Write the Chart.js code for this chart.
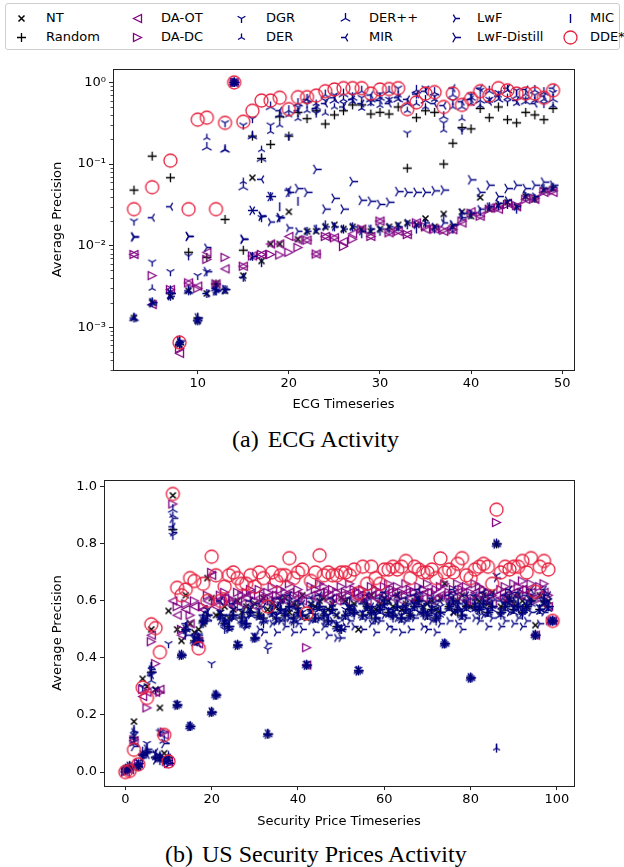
<!DOCTYPE html>
<html>
<head>
<meta charset="utf-8">
<script src="https://cdn.jsdelivr.net/npm/chart.js@4.4.1/dist/chart.umd.min.js"></script>
<style>
  body { margin: 0; width: 624px; height: 867px; background: #fff; position: relative; overflow: hidden; font-family: "DejaVu Sans", sans-serif; }
  #legend { position: absolute; left: 5px; top: 3px; width: 615px; height: 47px; border: 1px solid #cfcfcf; border-radius: 3px; box-sizing: border-box; }
  #legend canvas { position: absolute; }
  .lbl { position: absolute; font-size: 13px; line-height: 16px; color: #000; white-space: nowrap; }
  .wrap { position: absolute; left: 0; width: 624px; }
  .cap { position: absolute; font-family: "Liberation Serif", "Times New Roman", serif; font-size: 24px; line-height: 28px; white-space: nowrap; color: #000; }
  .cap span { margin-right: 9px; }
</style>
</head>
<body>
<div id="legend"></div>
<div class="wrap" style="top:55px;height:365px"><canvas id="ecgChart" width="624" height="365"></canvas></div>
<div class="cap" style="left:232px;top:425px"><span>(a)</span>ECG Activity</div>
<div class="wrap" style="top:465px;height:372px"><canvas id="secChart" width="624" height="372"></canvas></div>
<div class="cap" style="left:165px;top:840px"><span>(b)</span>US Security Prices Activity</div>
<script>
// ---------- (a) ECG Activity : x positions and values per method ----------
const xEcg = [3, 5, 7, 8, 9,
  10, 11, 12, 13, 14, 15, 16, 17, 18, 19,
  20, 21, 22, 23, 24, 25, 26, 27, 28, 29,
  30, 31, 32, 33, 34, 35, 36, 37, 38, 39,
  40, 41, 42, 43, 44, 45, 46, 47, 48, 49];

const ntEcg = [0.0013, 0.0020, 0.0024, 0.00062, 0.0028,
  0.0012, 0.0026, 0.0034, 0.0028, 1.0, 0.0043, 0.068, 0.0065, 0.0105, 0.0105,
  0.026, 0.012, 0.015, 0.015, 0.017, 0.018, 0.016, 0.017, 0.016, 0.015,
  0.016, 0.017, 0.018, 0.019, 0.018, 0.0215, 0.017, 0.0245, 0.017, 0.026,
  0.023, 0.039, 0.028, 0.031, 0.034, 0.030, 0.040, 0.037, 0.048, 0.050];
const randomEcg = [0.048, 0.125, 0.068, 0.00062, 0.0083,
  0.0013, 0.0072, 0.0034, 0.021, 1.0, 0.0088, 0.22, 0.117, 0.174, 0.38,
  0.22, 0.43, 0.36, 0.45, 0.31, 0.40, 0.45, 0.53, 0.53, 0.41,
  0.43, 0.41, 0.50, 0.089, 0.37, 0.45, 0.43, 0.10, 0.18, 0.28,
  0.27, 0.48, 0.37, 0.50, 0.35, 0.32, 0.43, 0.40, 0.35, 0.48];
const daOtEcg = [0.0078, 0.0019, 0.0029, 0.00048, 0.0035,
  0.0032, 0.0083, 0.0034, 0.0052, 1.0, 0.0056, 0.0075, 0.0078, 0.0105, 0.0105,
  0.013, 0.0118, 0.0117, 0.0079, 0.013, 0.0125, 0.0112, 0.014, 0.016, 0.013,
  0.020, 0.0144, 0.015, 0.0137, 0.019, 0.016, 0.016, 0.015, 0.0157, 0.019,
  0.026, 0.023, 0.029, 0.028, 0.033, 0.030, 0.037, 0.037, 0.045, 0.045];
const daDcEcg = [0.0078, 0.0043, 0.0029, 0.00055, 0.0035,
  0.0030, 0.0068, 0.0034, 0.0072, 1.0, 0.0056, 0.0075, 0.0078, 0.0078, 0.0077,
  0.0083, 0.0095, 0.0117, 0.0079, 0.013, 0.0125, 0.0098, 0.012, 0.016, 0.013,
  0.020, 0.0144, 0.015, 0.0137, 0.019, 0.017, 0.016, 0.0155, 0.0157, 0.020,
  0.025, 0.023, 0.028, 0.029, 0.032, 0.031, 0.037, 0.038, 0.046, 0.047];
const dgrEcg = [0.020, 0.0063, 0.0048, 0.00062, 0.0075,
  0.0043, 0.0048, 0.0028, 0.32, 1.0, 0.30, 0.36, 0.022, 0.30, 0.022,
  0.22, 0.50, 0.55, 0.42, 0.60, 0.70, 0.55, 0.70, 0.65, 0.58,
  0.72, 0.62, 0.85, 0.24, 0.72, 0.85, 0.68, 0.32, 0.60, 0.26,
  0.70, 0.80, 0.62, 0.75, 0.58, 0.80, 0.62, 0.70, 0.55, 0.75];
const derEcg = [0.0013, 0.0030, 0.0024, 0.00070, 0.0028,
  0.0012, 0.21, 0.0028, 0.15, 1.0, 0.061, 0.22, 0.15, 0.25, 0.30,
  0.40, 0.36, 0.45, 0.55, 0.42, 0.50, 0.62, 0.58, 0.48, 0.55,
  0.52, 0.60, 0.70, 0.45, 0.55, 0.50, 0.62, 0.26, 0.50, 0.36,
  0.55, 0.52, 0.60, 0.70, 0.65, 0.55, 0.72, 0.60, 0.62, 0.52];
const derPlusEcg = [0.0013, 0.0020, 0.0028, 0.00065, 0.0028,
  0.0013, 0.16, 0.0030, 0.15, 1.0, 0.052, 0.22, 0.116, 0.50, 0.40,
  0.45, 0.55, 0.62, 0.50, 0.70, 0.60, 0.72, 0.65, 0.78, 0.62,
  0.65, 0.78, 0.62, 0.55, 0.80, 0.60, 0.75, 0.38, 0.70, 0.50,
  0.65, 0.60, 0.78, 0.62, 0.80, 0.68, 0.58, 0.80, 0.75, 0.62];
const mirEcg = [0.0013, 0.022, 0.030, 0.00062, 0.0028,
  0.0012, 0.0026, 0.0030, 0.0029, 1.0, 0.0041, 0.027, 0.065, 0.040, 0.45,
  0.048, 0.45, 0.62, 0.48, 0.55, 0.65, 0.50, 0.62, 0.55, 0.70,
  0.60, 0.55, 0.65, 0.62, 0.72, 0.78, 0.55, 0.52, 0.85, 0.58,
  0.62, 0.85, 0.58, 0.68, 0.85, 0.60, 0.82, 0.55, 0.68, 0.85];
const lwfEcg = [0.0128, 0.0020, 0.0024, 0.00065, 0.013,
  0.0012, 0.0095, 0.0028, 0.0029, 1.0, 0.012, 0.0074, 0.023, 0.0195, 0.022,
  0.0165, 0.015, 0.015, 0.016, 0.017, 0.017, 0.016, 0.017, 0.015, 0.016,
  0.016, 0.017, 0.017, 0.019, 0.018, 0.019, 0.017, 0.019, 0.018, 0.022,
  0.025, 0.028, 0.030, 0.033, 0.036, 0.030, 0.042, 0.040, 0.050, 0.052];
const lwfDistillEcg = [0.0128, 0.0020, 0.0026, 0.00068, 0.013,
  0.0013, 0.0048, 0.0028, 0.0029, 1.0, 0.012, 0.027, 0.023, 0.040, 0.022,
  0.045, 0.050, 0.045, 0.086, 0.028, 0.038, 0.028, 0.061, 0.036, 0.035,
  0.032, 0.034, 0.046, 0.045, 0.045, 0.045, 0.047, 0.048, 0.018, 0.025,
  0.064, 0.045, 0.055, 0.040, 0.050, 0.055, 0.050, 0.055, 0.060, 0.055];
const micEcg = [0.0013, 0.0020, 0.0024, 0.00070, 0.0028,
  0.0012, 0.0026, 0.0028, 0.0029, 1.0, 0.0041, 0.0074, 0.0062, 0.040, 0.030,
  0.045, 0.035, 0.015, 0.016, 0.018, 0.017, 0.016, 0.017, 0.014, 0.016,
  0.015, 0.016, 0.017, 0.018, 0.016, 0.019, 0.016, 0.022, 0.016, 0.024,
  0.024, 0.026, 0.030, 0.031, 0.032, 0.028, 0.040, 0.038, 0.050, 0.052];
const ddeEcg = [0.028, 0.052, 0.11, 0.00065, 0.028,
  0.35, 0.37, 0.028, 0.32, 1.0, 0.33, 0.45, 0.60, 0.60, 0.65,
  0.47, 0.66, 0.66, 0.69, 0.78, 0.82, 0.85, 0.85, 0.85, 0.73,
  0.82, 0.83, 0.85, 0.47, 0.57, 0.73, 0.76, 0.50, 0.73, 0.53,
  0.63, 0.78, 0.69, 0.85, 0.80, 0.73, 0.73, 0.73, 0.65, 0.80];

const ecgTicksX = [10, 20, 30, 40, 50];
const ecgTicksY = [0.001, 0.01, 0.1, 1];
const ecgTickLabelsY = ['10\u207B\u00B3', '10\u207B\u00B2', '10\u207B\u00B9', '10\u2070'];

// ---------- (b) US Security Prices : series index 0..99 ----------
const xSec = Array.from({ length: 100 }, (_, i) => i);

const ntSec = [0.003, 0.01, 0.177, 0.02, 0.327, 0.30, 0.50, 0.29, 0.225, 0.066,
  0.565, 0.97, 0.50, 0.46, 0.62, 0.52, 0.49, 0.50, 0.52, 0.68,
  0.61, 0.55, 0.56, 0.58, 0.54, 0.57, 0.60, 0.56, 0.58, 0.57,
  0.59, 0.55, 0.61, 0.57, 0.59, 0.58, 0.60, 0.61, 0.56, 0.59,
  0.58, 0.62, 0.54, 0.59, 0.58, 0.60, 0.61, 0.57, 0.59, 0.55,
  0.61, 0.60, 0.58, 0.59, 0.50, 0.60, 0.58, 0.62, 0.57, 0.59,
  0.61, 0.60, 0.58, 0.62, 0.57, 0.59, 0.55, 0.60, 0.61, 0.58,
  0.59, 0.60, 0.57, 0.61, 0.66, 0.58, 0.56, 0.60, 0.62, 0.59,
  0.58, 0.61, 0.60, 0.62, 0.59, 0.63, 0.80, 0.58, 0.60, 0.61,
  0.59, 0.62, 0.60, 0.58, 0.61, 0.515, 0.62, 0.59, 0.60, 0.53];
const randomSec = [0.01, 0.02, 0.12, 0.02, 0.06, 0.07, 0.35, 0.05, 0.05, 0.04,
  0.05, 0.85, 0.235, 0.41, 0.50, 0.16, 0.46, 0.47, 0.53, 0.55,
  0.21, 0.27, 0.55, 0.52, 0.51, 0.55, 0.445, 0.54, 0.52, 0.56,
  0.47, 0.55, 0.54, 0.133, 0.56, 0.54, 0.57, 0.55, 0.58, 0.54,
  0.56, 0.55, 0.375, 0.57, 0.54, 0.58, 0.55, 0.53, 0.57, 0.51,
  0.50, 0.55, 0.57, 0.56, 0.355, 0.55, 0.58, 0.56, 0.54, 0.57,
  0.59, 0.56, 0.55, 0.58, 0.54, 0.57, 0.55, 0.58, 0.60, 0.56,
  0.55, 0.57, 0.54, 0.56, 0.45, 0.58, 0.60, 0.57, 0.55, 0.58,
  0.33, 0.58, 0.57, 0.59, 0.56, 0.58, 0.80, 0.56, 0.58, 0.60,
  0.57, 0.58, 0.56, 0.58, 0.60, 0.48, 0.57, 0.60, 0.58, 0.53];
const daOtSec = [0.0, 0.008, 0.11, 0.03, 0.265, 0.28, 0.48, 0.28, 0.29, 0.13,
  0.035, 0.60, 0.55, 0.48, 0.57, 0.52, 0.58, 0.45, 0.57, 0.60,
  0.69, 0.58, 0.60, 0.61, 0.59, 0.58, 0.60, 0.59, 0.61, 0.62,
  0.58, 0.61, 0.60, 0.60, 0.62, 0.60, 0.61, 0.60, 0.63, 0.59,
  0.61, 0.60, 0.375, 0.62, 0.61, 0.63, 0.62, 0.60, 0.61, 0.60,
  0.62, 0.60, 0.63, 0.61, 0.61, 0.61, 0.60, 0.62, 0.61, 0.60,
  0.62, 0.63, 0.61, 0.62, 0.60, 0.63, 0.61, 0.60, 0.62, 0.61,
  0.63, 0.60, 0.61, 0.62, 0.62, 0.60, 0.61, 0.63, 0.61, 0.60,
  0.60, 0.63, 0.62, 0.61, 0.60, 0.59, 0.62, 0.61, 0.62, 0.60,
  0.63, 0.62, 0.64, 0.61, 0.63, 0.48, 0.62, 0.63, 0.58, 0.53];
const daDcSec = [0.0, 0.008, 0.113, 0.03, 0.29, 0.225, 0.457, 0.38, 0.28, 0.14,
  0.03, 0.94, 0.58, 0.50, 0.59, 0.55, 0.60, 0.47, 0.58, 0.62,
  0.70, 0.60, 0.62, 0.63, 0.61, 0.60, 0.63, 0.62, 0.63, 0.64,
  0.60, 0.64, 0.62, 0.63, 0.65, 0.62, 0.64, 0.63, 0.66, 0.62,
  0.64, 0.62, 0.436, 0.65, 0.64, 0.66, 0.65, 0.63, 0.64, 0.63,
  0.65, 0.63, 0.66, 0.64, 0.63, 0.64, 0.62, 0.65, 0.64, 0.63,
  0.65, 0.66, 0.64, 0.65, 0.63, 0.66, 0.64, 0.63, 0.65, 0.64,
  0.66, 0.63, 0.64, 0.65, 0.66, 0.63, 0.64, 0.66, 0.64, 0.65,
  0.63, 0.66, 0.65, 0.64, 0.63, 0.62, 0.875, 0.64, 0.65, 0.63,
  0.66, 0.65, 0.67, 0.64, 0.66, 0.60, 0.65, 0.66, 0.62, 0.53];
const dgrSec = [0.01, 0.02, 0.13, 0.02, 0.30, 0.10, 0.34, 0.29, 0.14, 0.05,
  0.45, 0.83, 0.24, 0.41, 0.49, 0.16, 0.47, 0.48, 0.52, 0.57,
  0.38, 0.27, 0.56, 0.50, 0.53, 0.57, 0.45, 0.52, 0.54, 0.58,
  0.48, 0.57, 0.52, 0.43, 0.58, 0.55, 0.59, 0.53, 0.60, 0.52,
  0.57, 0.56, 0.38, 0.59, 0.55, 0.60, 0.53, 0.55, 0.58, 0.52,
  0.51, 0.57, 0.58, 0.55, 0.36, 0.56, 0.60, 0.55, 0.56, 0.58,
  0.61, 0.57, 0.54, 0.60, 0.55, 0.58, 0.57, 0.59, 0.62, 0.55,
  0.56, 0.59, 0.53, 0.58, 0.45, 0.60, 0.62, 0.56, 0.57, 0.60,
  0.33, 0.60, 0.55, 0.61, 0.57, 0.60, 0.69, 0.55, 0.59, 0.62,
  0.58, 0.61, 0.55, 0.60, 0.62, 0.48, 0.58, 0.62, 0.60, 0.53];
const derSec = [0.005, 0.015, 0.145, 0.03, 0.06, 0.07, 0.37, 0.05, 0.06, 0.04,
  0.06, 0.90, 0.235, 0.41, 0.51, 0.16, 0.45, 0.46, 0.54, 0.55,
  0.21, 0.27, 0.54, 0.53, 0.50, 0.55, 0.445, 0.55, 0.51, 0.56,
  0.47, 0.54, 0.54, 0.133, 0.55, 0.53, 0.57, 0.56, 0.57, 0.54,
  0.55, 0.54, 0.375, 0.57, 0.53, 0.58, 0.56, 0.52, 0.57, 0.50,
  0.50, 0.55, 0.56, 0.57, 0.355, 0.54, 0.58, 0.57, 0.53, 0.57,
  0.59, 0.55, 0.56, 0.58, 0.53, 0.57, 0.54, 0.58, 0.60, 0.57,
  0.54, 0.57, 0.55, 0.55, 0.45, 0.57, 0.60, 0.58, 0.54, 0.58,
  0.33, 0.57, 0.58, 0.59, 0.55, 0.58, 0.084, 0.56, 0.57, 0.60,
  0.57, 0.58, 0.56, 0.57, 0.60, 0.48, 0.56, 0.60, 0.57, 0.53];
const derPlusSec = [0.01, 0.02, 0.10, 0.025, 0.07, 0.08, 0.32, 0.06, 0.05, 0.11,
  0.04, 0.92, 0.235, 0.41, 0.50, 0.16, 0.46, 0.47, 0.53, 0.54,
  0.21, 0.27, 0.55, 0.52, 0.51, 0.54, 0.445, 0.53, 0.52, 0.55,
  0.47, 0.55, 0.53, 0.133, 0.56, 0.54, 0.56, 0.55, 0.58, 0.53,
  0.56, 0.55, 0.375, 0.56, 0.54, 0.57, 0.55, 0.53, 0.56, 0.51,
  0.50, 0.54, 0.57, 0.56, 0.355, 0.55, 0.57, 0.56, 0.54, 0.56,
  0.58, 0.56, 0.55, 0.57, 0.54, 0.56, 0.55, 0.57, 0.59, 0.56,
  0.55, 0.56, 0.54, 0.56, 0.45, 0.58, 0.59, 0.57, 0.55, 0.57,
  0.33, 0.58, 0.57, 0.58, 0.56, 0.57, 0.80, 0.55, 0.58, 0.59,
  0.56, 0.59, 0.57, 0.58, 0.59, 0.48, 0.57, 0.59, 0.58, 0.53];
const mirSec = [0.01, 0.02, 0.12, 0.02, 0.06, 0.06, 0.34, 0.07, 0.05, 0.04,
  0.05, 0.86, 0.235, 0.41, 0.52, 0.16, 0.48, 0.45, 0.55, 0.56,
  0.21, 0.27, 0.60, 0.54, 0.55, 0.59, 0.445, 0.57, 0.56, 0.60,
  0.47, 0.59, 0.58, 0.133, 0.60, 0.58, 0.61, 0.57, 0.62, 0.58,
  0.60, 0.59, 0.375, 0.61, 0.58, 0.62, 0.57, 0.57, 0.61, 0.55,
  0.54, 0.59, 0.61, 0.58, 0.355, 0.59, 0.62, 0.58, 0.58, 0.61,
  0.63, 0.60, 0.57, 0.62, 0.58, 0.61, 0.59, 0.62, 0.64, 0.58,
  0.59, 0.61, 0.58, 0.60, 0.45, 0.62, 0.64, 0.59, 0.59, 0.62,
  0.33, 0.62, 0.59, 0.63, 0.60, 0.62, 0.80, 0.60, 0.62, 0.64,
  0.61, 0.63, 0.58, 0.62, 0.64, 0.48, 0.61, 0.64, 0.62, 0.53];
const lwfSec = [0.01, 0.015, 0.14, 0.02, 0.05, 0.07, 0.36, 0.04, 0.14, 0.035,
  0.04, 0.84, 0.235, 0.41, 0.48, 0.16, 0.46, 0.48, 0.52, 0.53,
  0.21, 0.27, 0.53, 0.52, 0.50, 0.54, 0.445, 0.52, 0.51, 0.55,
  0.47, 0.50, 0.49, 0.45, 0.52, 0.49, 0.53, 0.51, 0.54, 0.49,
  0.52, 0.50, 0.375, 0.53, 0.49, 0.54, 0.51, 0.48, 0.53, 0.47,
  0.47, 0.51, 0.53, 0.51, 0.355, 0.50, 0.54, 0.52, 0.49, 0.53,
  0.55, 0.51, 0.50, 0.54, 0.49, 0.53, 0.50, 0.54, 0.56, 0.51,
  0.50, 0.53, 0.49, 0.52, 0.45, 0.53, 0.56, 0.52, 0.50, 0.54,
  0.33, 0.54, 0.53, 0.55, 0.51, 0.54, 0.68, 0.51, 0.53, 0.56,
  0.52, 0.54, 0.51, 0.53, 0.56, 0.48, 0.52, 0.56, 0.53, 0.53];
const lwfDistillSec = [0.005, 0.02, 0.09, 0.03, 0.06, 0.08, 0.35, 0.06, 0.05, 0.10,
  0.03, 0.89, 0.235, 0.41, 0.50, 0.16, 0.47, 0.46, 0.53, 0.55,
  0.21, 0.27, 0.55, 0.53, 0.51, 0.55, 0.445, 0.53, 0.52, 0.56,
  0.47, 0.55, 0.53, 0.133, 0.56, 0.53, 0.57, 0.55, 0.58, 0.53,
  0.56, 0.55, 0.375, 0.57, 0.54, 0.58, 0.55, 0.53, 0.57, 0.51,
  0.50, 0.55, 0.57, 0.56, 0.355, 0.55, 0.58, 0.56, 0.54, 0.57,
  0.59, 0.56, 0.55, 0.58, 0.54, 0.57, 0.55, 0.58, 0.60, 0.56,
  0.55, 0.57, 0.54, 0.56, 0.45, 0.58, 0.60, 0.57, 0.55, 0.58,
  0.33, 0.58, 0.57, 0.59, 0.56, 0.58, 0.80, 0.56, 0.58, 0.60,
  0.57, 0.58, 0.56, 0.58, 0.60, 0.48, 0.57, 0.60, 0.58, 0.53];
const micSec = [0.01, 0.02, 0.15, 0.02, 0.05, 0.07, 0.37, 0.05, 0.04, 0.04,
  0.05, 0.87, 0.235, 0.41, 0.51, 0.16, 0.46, 0.47, 0.54, 0.55,
  0.21, 0.27, 0.55, 0.52, 0.51, 0.55, 0.445, 0.54, 0.52, 0.56,
  0.47, 0.55, 0.54, 0.133, 0.56, 0.54, 0.57, 0.55, 0.58, 0.54,
  0.56, 0.55, 0.375, 0.57, 0.54, 0.58, 0.55, 0.53, 0.57, 0.51,
  0.50, 0.55, 0.57, 0.56, 0.355, 0.55, 0.58, 0.56, 0.54, 0.57,
  0.59, 0.56, 0.55, 0.58, 0.54, 0.57, 0.55, 0.58, 0.60, 0.56,
  0.55, 0.57, 0.54, 0.56, 0.45, 0.58, 0.60, 0.57, 0.55, 0.58,
  0.33, 0.58, 0.57, 0.59, 0.56, 0.58, 0.084, 0.56, 0.58, 0.60,
  0.57, 0.58, 0.56, 0.58, 0.60, 0.48, 0.57, 0.60, 0.58, 0.53];
const ddeSec = [0.0, 0.004, 0.078, 0.027, 0.296, 0.26, 0.518, 0.505, 0.42, 0.13,
  0.037, 0.975, 0.646, 0.62, 0.64, 0.68, 0.67, 0.434, 0.66, 0.60,
  0.755, 0.69, 0.60, 0.65, 0.69, 0.70, 0.68, 0.66, 0.66, 0.69,
  0.65, 0.70, 0.68, 0.58, 0.70, 0.67, 0.69, 0.69, 0.75, 0.68,
  0.70, 0.71, 0.556, 0.67, 0.70, 0.76, 0.69, 0.70, 0.69, 0.69,
  0.70, 0.70, 0.69, 0.71, 0.627, 0.72, 0.66, 0.72, 0.68, 0.66,
  0.71, 0.71, 0.72, 0.71, 0.72, 0.74, 0.68, 0.72, 0.71, 0.70,
  0.70, 0.71, 0.68, 0.749, 0.70, 0.71, 0.70, 0.73, 0.75, 0.69,
  0.68, 0.71, 0.72, 0.73, 0.72, 0.66, 0.92, 0.70, 0.72, 0.71,
  0.72, 0.72, 0.74, 0.70, 0.75, 0.632, 0.72, 0.74, 0.71, 0.53];

const secTicksX = [0, 20, 40, 60, 80, 100];
const secTicksY = [0, 0.2, 0.4, 0.6, 0.8, 1.0];

const methods = ['NT', 'Random', 'DA-OT', 'DA-DC', 'DGR', 'DER', 'DER++', 'MIR', 'LwF', 'LwF-Distill', 'MIC', 'DDE*'];
const ecgSeries = [ntEcg, randomEcg, daOtEcg, daDcEcg, dgrEcg, derEcg, derPlusEcg, mirEcg, lwfEcg, lwfDistillEcg, micEcg, ddeEcg];
const secSeries = [ntSec, randomSec, daOtSec, daDcSec, dgrSec, derSec, derPlusSec, mirSec, lwfSec, lwfDistillSec, micSec, ddeSec];

// matplotlib-like marker glyphs
const NAVY = '#000080', PURPLE = '#800080', RED = '#e8213f';
const markerDefs = {
  'NT': { kind: 'x', r: 3, color: '#000', lw: 1.5 },
  'Random': { kind: '+', r: 4.5, color: '#000', lw: 1.3 },
  'DA-OT': { kind: '<', r: 4, color: PURPLE, lw: 1.3 },
  'DA-DC': { kind: '>', r: 4, color: PURPLE, lw: 1.3 },
  'DGR': { kind: '1', r: 4.5, color: NAVY, lw: 1.3 },
  'DER': { kind: '2', r: 4, color: NAVY, lw: 1.3 },
  'DER++': { kind: '2', r: 5.5, color: NAVY, lw: 1.3 },
  'MIR': { kind: '3', r: 4.5, color: NAVY, lw: 1.3 },
  'LwF': { kind: '4', r: 4.5, color: NAVY, lw: 1.3 },
  'LwF-Distill': { kind: '4', r: 5.5, color: NAVY, lw: 1.3 },
  'MIC': { kind: '|', r: 4.5, color: NAVY, lw: 1.4 },
  'DDE*': { kind: 'o', r: 6.5, color: RED, lw: 1.3 }
};

function makeGlyph(def) {
  const { kind, r, color, lw } = def;
  const size = 2 * Math.ceil(r + lw) + 1;
  const c = document.createElement('canvas');
  c.width = size; c.height = size;
  const g = c.getContext('2d');
  g.translate(size / 2, size / 2);
  g.strokeStyle = color;
  g.lineWidth = lw;
  g.beginPath();
  const rays = {
    '1': [[0, 1], [-0.866, -0.5], [0.866, -0.5]],
    '2': [[0, -1], [-0.866, 0.5], [0.866, 0.5]],
    '3': [[-1, 0], [0.5, -0.866], [0.5, 0.866]],
    '4': [[1, 0], [-0.5, -0.866], [-0.5, 0.866]]
  };
  if (rays[kind]) {
    rays[kind].forEach(([dx, dy]) => { g.moveTo(0, 0); g.lineTo(dx * r, dy * r); });
  } else if (kind === 'x') {
    g.moveTo(-r, -r); g.lineTo(r, r); g.moveTo(-r, r); g.lineTo(r, -r);
  } else if (kind === '+') {
    g.moveTo(-r, 0); g.lineTo(r, 0); g.moveTo(0, -r); g.lineTo(0, r);
  } else if (kind === '|') {
    g.moveTo(0, -r); g.lineTo(0, r);
  } else if (kind === '<') {
    g.moveTo(-r, 0); g.lineTo(r, -r); g.lineTo(r, r); g.closePath();
  } else if (kind === '>') {
    g.moveTo(r, 0); g.lineTo(-r, -r); g.lineTo(-r, r); g.closePath();
  } else if (kind === 'o') {
    g.arc(0, 0, r, 0, Math.PI * 2);
  }
  g.stroke();
  return c;
}

const glyphs = {};
methods.forEach(m => { glyphs[m] = makeGlyph(markerDefs[m]); });

// HTML legend, 6 columns x 2 rows
const legendCols = [21, 137, 241, 345, 455, 570];
const legendTextX = [46, 161, 266, 369, 477, 590];
const legendRows = [18, 37];
const legendEl = document.getElementById('legend');
methods.forEach((m, i) => {
  const col = Math.floor(i / 2), row = i % 2;
  const glyph = makeGlyph(markerDefs[m]);
  glyph.style.left = (legendCols[col] - 6 - glyph.width / 2) + 'px';
  glyph.style.top = (legendRows[row] - 4 - glyph.height / 2) + 'px';
  legendEl.appendChild(glyph);
  const lbl = document.createElement('div');
  lbl.className = 'lbl';
  lbl.textContent = m;
  lbl.style.left = (legendTextX[col] - 6) + 'px';
  lbl.style.top = (legendRows[row] - 4 - 8) + 'px';
  legendEl.appendChild(lbl);
});

// box around the axes (all four spines)
const framePlugin = {
  id: 'frame',
  afterDatasetsDraw(chart) {
    const { ctx, chartArea: a } = chart;
    ctx.save();
    ctx.strokeStyle = '#222';
    ctx.lineWidth = 1;
    ctx.strokeRect(Math.round(a.left) + 0.5, Math.round(a.top) + 0.5, Math.round(a.right - a.left), Math.round(a.bottom - a.top));
    ctx.restore();
  }
};

// minor ticks on the log axis
const minorTicksPlugin = {
  id: 'minorTicks',
  afterDraw(chart) {
    const y = chart.scales.y;
    if (y.type !== 'logarithmic') return;
    const { ctx, chartArea: a } = chart;
    ctx.save();
    ctx.strokeStyle = '#222';
    ctx.lineWidth = 0.8;
    ctx.beginPath();
    for (let k = -4; k <= 0; k++) {
      for (let m = 2; m <= 9; m++) {
        const v = m * Math.pow(10, k);
        if (v < y.min || v > y.max) continue;
        const py = Math.round(y.getPixelForValue(v)) + 0.5;
        ctx.moveTo(a.left, py);
        ctx.lineTo(a.left - 2.5, py);
      }
    }
    ctx.stroke();
    ctx.restore();
  }
};

const tickFont = { family: '"DejaVu Sans", sans-serif', size: 13 };

function buildChart(canvasId, xs, seriesList, cfg) {
  const datasets = methods.map((m, i) => ({
    label: m,
    data: xs.map((x, j) => ({ x: x, y: seriesList[i][j] })),
    pointStyle: glyphs[m],
    pointRadius: 3,
    pointHoverRadius: 3,
    showLine: false,
    order: methods.length - i
  }));
  return new Chart(document.getElementById(canvasId), {
    type: 'scatter',
    data: { datasets },
    options: {
      responsive: false,
      animation: false,
      events: [],
      layout: { padding: cfg.padding },
      plugins: { legend: { display: false }, tooltip: { enabled: false } },
      scales: {
        x: {
          type: 'linear',
          min: cfg.xMin, max: cfg.xMax,
          afterBuildTicks: s => { s.ticks = cfg.xTicks.map(v => ({ value: v })); },
          afterFit: s => { s.height = cfg.xAxisHeight; },
          ticks: { font: tickFont, color: '#000', padding: 2, autoSkip: false, maxRotation: 0, callback: v => String(v) },
          grid: { display: true, drawOnChartArea: false, drawTicks: true, tickLength: 4, tickColor: '#222' },
          border: { display: true, color: '#222' },
          title: { display: true, text: cfg.xTitle, font: tickFont, color: '#000' }
        },
        y: {
          type: cfg.yType,
          min: cfg.yMin, max: cfg.yMax,
          afterBuildTicks: s => { s.ticks = cfg.yTicks.map(v => ({ value: v })); },
          afterFit: s => { s.width = cfg.yAxisWidth; },
          ticks: { font: tickFont, color: '#000', padding: 3, autoSkip: false, callback: cfg.yLabel },
          grid: { display: true, drawOnChartArea: false, drawTicks: true, tickLength: 4, tickColor: '#222' },
          border: { display: true, color: '#222' },
          title: { display: true, text: 'Average Precision', font: tickFont, color: '#000' }
        }
      }
    },
    plugins: [framePlugin, minorTicksPlugin]
  });
}

buildChart('ecgChart', xEcg, ecgSeries, {
  padding: { left: 46, right: 50, top: 14, bottom: 4 },
  xMin: 0.7, xMax: 51.3, xTicks: ecgTicksX, xAxisHeight: 46, xTitle: 'ECG Timeseries',
  yType: 'logarithmic', yMin: 0.00033, yMax: 1.46, yTicks: ecgTicksY, yAxisWidth: 67,
  yLabel: v => ecgTickLabelsY[ecgTicksY.findIndex(t => Math.abs(t - v) < t * 1e-6)]
});

buildChart('secChart', xSec, secSeries, {
  padding: { left: 46, right: 50, top: 15, bottom: 4 },
  xMin: -4.95, xMax: 103.95, xTicks: secTicksX, xAxisHeight: 47, xTitle: 'Security Price Timeseries',
  yType: 'linear', yMin: -0.049, yMax: 1.024, yTicks: secTicksY, yAxisWidth: 58,
  yLabel: v => v.toFixed(1)
});
</script>
</body>
</html>
